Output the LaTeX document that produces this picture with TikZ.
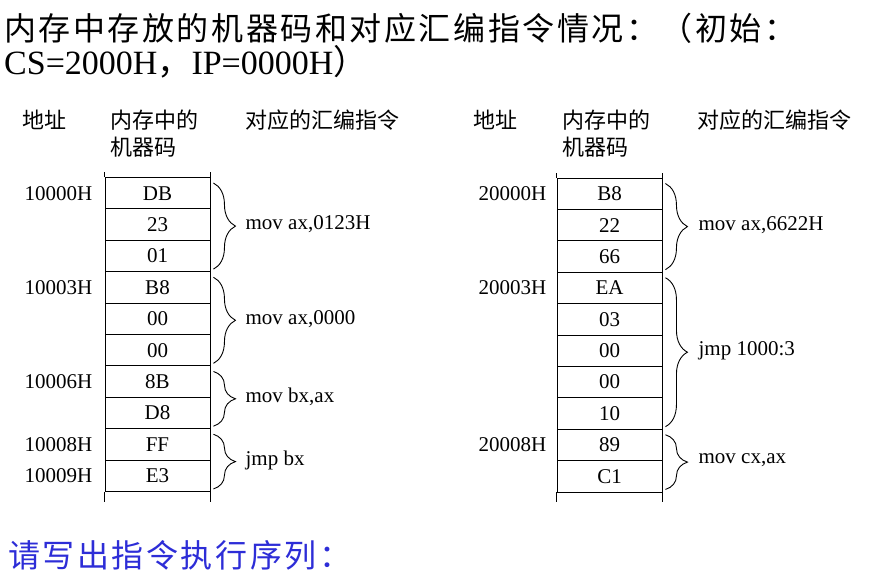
\documentclass[tikz,border=0pt]{standalone}
\usepackage{fontspec}
\setmainfont{Liberation Serif}
\newfontfamily\cjk{Noto Sans CJK SC}
\newfontfamily\cjkwide[LetterSpace=8]{Noto Sans CJK SC}
\usepackage{tikz}
\usetikzlibrary{positioning,calc,decorations.pathreplacing}
\definecolor{promptblue}{RGB}{45,45,215}
\tikzset{
  cellbox/.style={draw,line width=0.9pt,minimum width=105pt,minimum height=31.4pt,
    inner sep=0pt,font=\fontsize{21pt}{24pt}\selectfont},
  addrlabel/.style={inner sep=0pt,font=\fontsize{21pt}{24pt}\selectfont},
  asmlabel/.style={anchor=west,inner sep=0pt,font=\fontsize{21pt}{24pt}\selectfont},
  headlabel/.style={anchor=west,inner sep=0pt,align=left,font=\cjk\fontsize{22pt}{27pt}\selectfont},
  bracepath/.style={decorate,decoration={brace,amplitude=22pt},line width=0.9pt},
  titlelabel/.style={anchor=west,inner sep=0pt,font=\fontsize{32pt}{36pt}\selectfont}
}

\begin{document}
\begin{tikzpicture}[x=1pt,y=-1pt]
  \useasboundingbox (0,0) rectangle (894,580);
  % title
  \node[titlelabel] (title1) at (4,28) {\cjkwide 内存中存放的机器码和对应汇编指令情况：（初始：};
  \node[titlelabel,font=\fontsize{34pt}{36pt}\selectfont] (title2) at (4,62) {CS=2000H{\cjk ，}IP=0000H{\cjk ）}};
  % left memory
  \node[headlabel] (lh1) at (22,120) {地址};
  \node[headlabel] (lh2) at (110,133.5) {内存中的\\机器码};
  \node[headlabel] (lh3) at (245,120) {对应的汇编指令};
  \foreach \v [count=\i] in {DB,23,01,B8,00,00,8B,D8,FF,E3}
    \node[cellbox] (l\i) at (157.5,{161.8+31.4*\i}) {\v};
  \draw[line width=0.9pt] (l1.north west) -- ++(0,-5) (l1.north east) -- ++(0,-5);
  \draw[line width=0.9pt] (l10.south west) -- ++(0,10) (l10.south east) -- ++(0,10);
  \foreach \i/\a in {1/10000H,4/10003H,7/10006H,9/10008H,10/10009H}
    \node[addrlabel,left=12pt of l\i] (la\i) {\a};
  \foreach \a/\b/\t [count=\k] in {1/3/{mov ax,0123H},4/6/{mov ax,0000},7/8/{mov bx,ax},9/10/{jmp bx}} {
    \draw[bracepath] ($(l\a.north east)+(3,6)$) -- ($(l\b.south east)+(3,-3)$);
    \node[asmlabel] (lm\k) at ($(l\a.north east)!0.5!(l\b.south east)+(35,0)$) {\t};
  }
  % right memory
  \node[headlabel] (rh1) at (473,120) {地址};
  \node[headlabel] (rh2) at (562,133.5) {内存中的\\机器码};
  \node[headlabel] (rh3) at (697,120) {对应的汇编指令};
  \foreach \v [count=\i] in {B8,22,66,EA,03,00,00,10,89,C1}
    \node[cellbox] (r\i) at (609.5,{162.3+31.4*\i}) {\v};
  \draw[line width=0.9pt] (r1.north west) -- ++(0,-5) (r1.north east) -- ++(0,-5);
  \draw[line width=0.9pt] (r10.south west) -- ++(0,10) (r10.south east) -- ++(0,10);
  \foreach \i/\a in {1/20000H,4/20003H,9/20008H}
    \node[addrlabel,left=10pt of r\i] (ra\i) {\a};
  \foreach \a/\b/\t [count=\k] in {1/3/{mov ax,6622H},4/8/{jmp 1000:3},9/10/{mov cx,ax}} {
    \draw[bracepath] ($(r\a.north east)+(3,6)$) -- ($(r\b.south east)+(3,-3)$);
    \node[asmlabel] (rm\k) at ($(r\a.north east)!0.5!(r\b.south east)+(36,0)$) {\t};
  }
  % question
  \node[titlelabel,text=promptblue] (prompt) at (8,555) {\cjkwide 请写出指令执行序列：};
\end{tikzpicture}
\end{document}
